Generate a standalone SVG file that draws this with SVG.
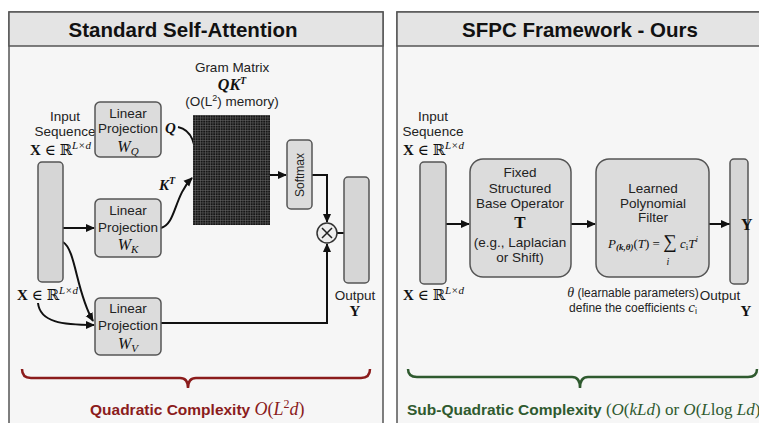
<svg xmlns="http://www.w3.org/2000/svg" width="759" height="423" viewBox="0 0 759 423">
<style>
.title{font-family:"Liberation Sans",Arial,sans-serif;font-weight:bold;font-size:20.5px;fill:#111;text-anchor:middle}
.t{font-family:"Liberation Sans",Arial,sans-serif;font-size:13.5px;fill:#222;text-anchor:middle}
.s{font-family:"Liberation Sans",Arial,sans-serif;font-size:12px;fill:#222;text-anchor:middle}
.m{font-family:"Liberation Serif","DejaVu Serif",serif;fill:#111}
.ds{font-family:"DejaVu Serif",serif}
.box{fill:#dcdcdc;stroke:#555;stroke-width:1.5}
.bar{fill:#d6d6d6;stroke:#555;stroke-width:1.5}
.ln{fill:none;stroke:#111;stroke-width:2}
.ar{fill:none;stroke:#111;stroke-width:2;marker-end:url(#ah)}
</style>
<defs>
<marker id="ah" markerWidth="10" markerHeight="10" refX="8" refY="5" orient="auto" markerUnits="userSpaceOnUse">
<path d="M0,1 L9,5 L0,9 Z" fill="#111"/>
</marker>
<pattern id="grid" width="2.5" height="2.5" patternUnits="userSpaceOnUse">
<rect width="2.5" height="2.5" fill="#161616"/>
<path d="M0,0.4 H2.5 M0.4,0 V2.5" stroke="#6a6a6a" stroke-width="0.5"/>
</pattern>
</defs>
<rect width="759" height="423" fill="#ffffff"/>

<!-- Left panel -->
<g id="panel-left">
<rect x="9" y="12" width="374" height="420" fill="#f6f6f6" stroke="#555" stroke-width="1.5"/>
<rect x="9" y="12" width="374" height="34" fill="#e4e4e4" stroke="#555" stroke-width="1.5"/>
<text class="title" x="183" y="37">Standard Self-Attention</text>
</g>

<!-- Right panel -->
<g id="panel-right">
<rect x="397" y="12" width="380" height="420" fill="#f6f6f6" stroke="#555" stroke-width="1.5"/>
<rect x="397" y="12" width="380" height="34" fill="#e4e4e4" stroke="#555" stroke-width="1.5"/>
<text class="title" x="580" y="37">SFPC Framework - Ours</text>
</g>

<!-- Connectors -->
<g id="connectors">
<path class="ln" d="M178,127 C192,130 197,145 195,165"/>
<path class="ar" d="M161,228 C176,224 174,196 192,178"/>
<path class="ar" d="M62,228 L94,228"/>
<path class="ar" d="M63,242 C76,250 76,292 93,321"/>
<path class="ar" d="M38,303 C40,322 62,325 94,325"/>
<path class="ar" d="M270,175 L286,175"/>
<path class="ar" d="M312,175 L327,175 L327,222"/>
<path class="ar" d="M161,323 L327,323 L327,244"/>
<path class="ln" d="M337,233 L344,233"/>
<path class="ar" d="M446,224 L469,224"/>
<path class="ar" d="M571,224 L595,224"/>
<path class="ar" d="M709,224 L729,224"/>
<path class="ar" d="M727,224 L741,224"/>
</g>

<!-- Left nodes -->
<g id="input-left">
<text class="t" x="65" y="121">Input</text>
<text class="t" x="65" y="136">Sequence</text>
<text class="m" x="30" y="155" font-size="15"><tspan font-weight="bold">X</tspan> ∈ <tspan class="ds">ℝ</tspan><tspan font-size="11" font-style="italic" dy="-6">L×d</tspan></text>
<rect class="bar" x="38" y="162" width="25" height="120" rx="4"/>
<text class="m" x="17" y="300" font-size="15"><tspan font-weight="bold">X</tspan> ∈ <tspan class="ds">ℝ</tspan><tspan font-size="11" font-style="italic" dy="-6">L×d</tspan></text>
</g>

<g id="wq">
<rect class="box" x="95" y="102" width="66" height="55" rx="5"/>
<text class="t" x="128" y="118">Linear</text>
<text class="t" x="128" y="133">Projection</text>
<text class="m" x="128" y="152" font-size="16" font-style="italic" text-anchor="middle">W<tspan font-size="11" dy="3">Q</tspan></text>
<text class="m" x="165" y="133" font-size="15" font-style="italic" font-weight="bold">Q</text>
</g>

<g id="wk">
<rect class="box" x="95" y="199" width="66" height="58" rx="5"/>
<text class="t" x="128" y="215">Linear</text>
<text class="t" x="128" y="232">Projection</text>
<text class="m" x="128" y="250" font-size="16" font-style="italic" text-anchor="middle">W<tspan font-size="11" dy="3">K</tspan></text>
<text class="m" x="159" y="190" font-size="15" font-style="italic" font-weight="bold">K<tspan font-size="10" dy="-6">T</tspan></text>
</g>

<g id="wv">
<rect class="box" x="95" y="298" width="66" height="57" rx="5"/>
<text class="t" x="128" y="313">Linear</text>
<text class="t" x="128" y="330">Projection</text>
<text class="m" x="128" y="349" font-size="16" font-style="italic" text-anchor="middle">W<tspan font-size="11" dy="3">V</tspan></text>
</g>

<g id="gram">
<text class="t" x="232" y="72">Gram Matrix</text>
<text class="m" x="232" y="90" font-size="16" font-style="italic" font-weight="bold" text-anchor="middle">QK<tspan font-size="10" dy="-6">T</tspan></text>
<text class="t" x="232" y="106">(O(L<tspan font-size="9" dy="-5">2</tspan><tspan dy="5">) memory)</tspan></text>
<rect x="193" y="115" width="77" height="110" fill="url(#grid)"/>
</g>

<g id="softmax">
<rect class="box" x="287" y="140" width="25" height="69" rx="4"/>
<text class="s" x="0" y="0" transform="translate(304,175) rotate(-90)">Softmax</text>
</g>

<g id="mult">
<circle cx="327" cy="233" r="10" fill="#eeeeee" stroke="#333" stroke-width="1.5"/>
<path d="M322,228 L332,238 M332,228 L322,238" stroke="#222" stroke-width="1.5"/>
</g>

<g id="output-left">
<rect class="bar" x="344" y="177" width="25" height="106" rx="4"/>
<text class="t" x="355" y="300">Output</text>
<text class="m" x="355" y="316" font-size="15" font-weight="bold" text-anchor="middle">Y</text>
</g>

<g id="brace-left">
<path d="M22,369 Q22,378 31,378 L180,378 Q188,378 188,388 Q188,378 196,378 L361,378 Q370,378 370,369" fill="none" stroke="#8b1c1c" stroke-width="2.5"/>
<text x="90" y="415" font-family="Liberation Sans,Arial,sans-serif" font-size="15.5" font-weight="bold" fill="#8b1c1c">Quadratic Complexity <tspan font-family="Liberation Serif,serif" font-weight="normal" font-style="italic" font-size="18">O</tspan><tspan font-family="Liberation Serif,serif" font-weight="normal" font-size="18">(</tspan><tspan font-family="Liberation Serif,serif" font-weight="normal" font-style="italic" font-size="18">L</tspan><tspan font-family="Liberation Serif,serif" font-weight="normal" font-size="12" dy="-7">2</tspan><tspan font-family="Liberation Serif,serif" font-weight="normal" font-style="italic" font-size="18" dy="7">d</tspan><tspan font-family="Liberation Serif,serif" font-weight="normal" font-size="18">)</tspan></text>
</g>

<!-- Right nodes -->
<g id="input-right">
<text class="t" x="433" y="121">Input</text>
<text class="t" x="433" y="136">Sequence</text>
<text class="m" x="403" y="155" font-size="15"><tspan font-weight="bold">X</tspan> ∈ <tspan class="ds">ℝ</tspan><tspan font-size="11" font-style="italic" dy="-6">L×d</tspan></text>
<rect class="bar" x="420" y="162" width="26" height="122" rx="4"/>
<text class="m" x="403" y="300" font-size="15"><tspan font-weight="bold">X</tspan> ∈ <tspan class="ds">ℝ</tspan><tspan font-size="11" font-style="italic" dy="-6">L×d</tspan></text>
</g>

<g id="base-operator">
<rect class="box" x="470" y="159" width="101" height="118" rx="13" fill="#e0e0e0"/>
<text class="t" x="520" y="177">Fixed</text>
<text class="t" x="520" y="193">Structured</text>
<text class="t" x="520" y="208">Base Operator</text>
<text class="m" x="520" y="228" font-size="17" font-weight="bold" text-anchor="middle">T</text>
<text class="t" x="520" y="247">(e.g., Laplacian</text>
<text class="t" x="520" y="262">or Shift)</text>
</g>

<g id="poly-filter">
<rect class="box" x="596" y="159" width="113" height="118" rx="13" fill="#e0e0e0"/>
<text class="t" x="653" y="193">Learned</text>
<text class="t" x="653" y="208">Polynomial</text>
<text class="t" x="653" y="222">Filter</text>
<text class="m" x="653" y="248" font-size="13" text-anchor="middle"><tspan font-style="italic">P</tspan><tspan font-size="9" font-style="italic" font-weight="bold" dy="2">(k,θ)</tspan><tspan dy="-2">(</tspan><tspan font-style="italic">T</tspan>) = <tspan font-size="19">∑</tspan> <tspan font-style="italic">c</tspan><tspan font-size="9" dy="2">i</tspan><tspan font-style="italic" dy="-2">T</tspan><tspan font-size="9" font-style="italic" dy="-6">i</tspan></text>
<text class="m" x="668" y="265" font-size="10" font-style="italic" text-anchor="middle">i</text>
</g>

<g id="params">
<text class="s" x="633" y="297"><tspan font-family="Liberation Serif,serif" font-style="italic" font-size="14">θ</tspan> (learnable parameters)</text>
<text class="s" x="633" y="312">define the coefficients <tspan font-family="Liberation Serif,serif" font-style="italic" font-size="15">c</tspan><tspan font-size="9" dy="2">i</tspan></text>
</g>

<g id="output-right">
<rect class="bar" x="730" y="159" width="18" height="125" rx="4"/>
<text class="m" x="741" y="230" font-size="16" font-weight="bold">Y</text>
<text class="t" x="720" y="300" text-anchor="start">Output</text>
<text class="m" x="746" y="316" font-size="15" font-weight="bold" text-anchor="middle">Y</text>
</g>

<g id="brace-right">
<path d="M408,369 Q408,377 417,377 L572,377 Q580,377 580,388 Q580,377 588,377 L748,377 Q757,377 757,369" fill="none" stroke="#2f5a2f" stroke-width="2.5"/>
<text x="407" y="415" font-family="Liberation Sans,Arial,sans-serif" font-size="15.5" font-weight="bold" fill="#2f5a2f">Sub-Quadratic Complexity<tspan font-family="Liberation Serif,serif" font-weight="normal" font-size="17"> (<tspan font-style="italic">O</tspan>(<tspan font-style="italic">kLd</tspan>) or <tspan font-style="italic">O</tspan>(<tspan font-style="italic">L</tspan>log <tspan font-style="italic">Ld</tspan>)</tspan></text>
</g>
</svg>
